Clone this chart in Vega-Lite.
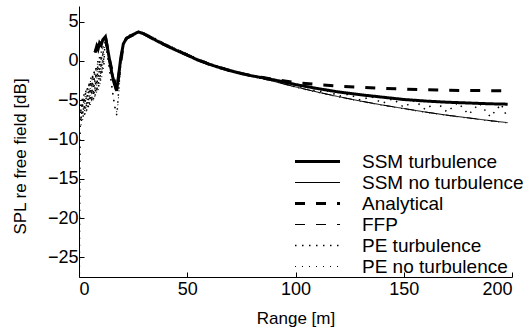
{
"$schema": "https://vega.github.io/schema/vega-lite/v6.json",
"width": 433, "height": 271,
"autosize": {"type": "none"},
"padding": {"left": 79, "top": 6, "right": 18, "bottom": 57},
"background": "white",
"config": {
  "view": {"stroke": null},
  "font": "Liberation Sans",
  "axis": {"domainColor": "black", "domainWidth": 1, "tickColor": "black", "tickSize": -5, "labelColor": "black", "titleColor": "black", "labelFontSize": 18, "titleFontSize": 17, "titleFontWeight": "normal", "grid": false, "labelFont": "Liberation Sans", "titleFont": "Liberation Sans"},
  "legend": {"labelFont": "Liberation Sans"}
},
"data": {"values": [
{"s":"PE no turbulence","x":0.2,"y":-28},{"s":"PE no turbulence","x":0.4,"y":-11},{"s":"PE no turbulence","x":0.6,"y":-6.0},{"s":"PE no turbulence","x":1.0,"y":-8.2},{"s":"PE no turbulence","x":1.3,"y":-5.2},{"s":"PE no turbulence","x":1.7,"y":-7.5},{"s":"PE no turbulence","x":2.1,"y":-4.5},{"s":"PE no turbulence","x":2.5,"y":-7.0},{"s":"PE no turbulence","x":2.9,"y":-3.9},{"s":"PE no turbulence","x":3.3,"y":-6.6},{"s":"PE no turbulence","x":3.7,"y":-3.4},{"s":"PE no turbulence","x":4.1,"y":-6.2},{"s":"PE no turbulence","x":4.5,"y":-2.9},{"s":"PE no turbulence","x":4.9,"y":-5.8},{"s":"PE no turbulence","x":5.3,"y":-2.4},{"s":"PE no turbulence","x":5.7,"y":-5.4},{"s":"PE no turbulence","x":6.1,"y":-1.9},{"s":"PE no turbulence","x":6.5,"y":-5.0},{"s":"PE no turbulence","x":6.9,"y":-1.4},{"s":"PE no turbulence","x":7.3,"y":-4.7},{"s":"PE no turbulence","x":7.7,"y":-0.9},{"s":"PE no turbulence","x":8.1,"y":-4.2},{"s":"PE no turbulence","x":8.5,"y":-0.3},{"s":"PE no turbulence","x":8.9,"y":-3.7},{"s":"PE no turbulence","x":9.3,"y":0.3},{"s":"PE no turbulence","x":9.7,"y":-3.0},{"s":"PE no turbulence","x":10.1,"y":0.9},{"s":"PE no turbulence","x":10.5,"y":-2.1},{"s":"PE no turbulence","x":10.9,"y":1.6},{"s":"PE no turbulence","x":11.3,"y":-1.0},{"s":"PE no turbulence","x":11.8,"y":2.3},{"s":"PE no turbulence","x":12.5,"y":2.0},{"s":"PE no turbulence","x":13.5,"y":0.0},{"s":"PE no turbulence","x":14.5,"y":-2.0},{"s":"PE no turbulence","x":15.5,"y":-4.0},{"s":"PE no turbulence","x":16.5,"y":-5.8},{"s":"PE no turbulence","x":17.3,"y":-6.6},{"s":"PE no turbulence","x":18,"y":-5.5},{"s":"PE no turbulence","x":18.7,"y":-3.0},{"s":"PE no turbulence","x":19.5,"y":0.0},{"s":"PE no turbulence","x":20.5,"y":2.0},{"s":"PE no turbulence","x":22,"y":3.0},{"s":"PE no turbulence","x":25,"y":3.4},{"s":"PE no turbulence","x":28,"y":3.75},{"s":"PE no turbulence","x":32,"y":3.35},{"s":"PE no turbulence","x":36,"y":2.8},{"s":"PE no turbulence","x":40,"y":2.2},{"s":"PE no turbulence","x":45,"y":1.55},{"s":"PE no turbulence","x":50,"y":0.95},{"s":"PE no turbulence","x":55,"y":0.3},{"s":"PE no turbulence","x":60,"y":-0.25},{"s":"PE no turbulence","x":65,"y":-0.7},{"s":"PE no turbulence","x":70,"y":-1.1},{"s":"PE no turbulence","x":75,"y":-1.5},{"s":"PE no turbulence","x":80,"y":-1.9},{"s":"PE no turbulence","x":90,"y":-2.6},{"s":"PE no turbulence","x":100,"y":-3.35},{"s":"PE no turbulence","x":110,"y":-4.0},{"s":"PE no turbulence","x":120,"y":-4.6},{"s":"PE no turbulence","x":130,"y":-5.15},{"s":"PE no turbulence","x":140,"y":-5.65},{"s":"PE no turbulence","x":150,"y":-6.1},{"s":"PE no turbulence","x":160,"y":-6.55},{"s":"PE no turbulence","x":170,"y":-6.95},{"s":"PE no turbulence","x":180,"y":-7.3},{"s":"PE no turbulence","x":190,"y":-7.65},{"s":"PE no turbulence","x":198,"y":-7.9},
{"s":"PE turbulence","x":0.15,"y":-28},{"s":"PE turbulence","x":0.3,"y":-14},{"s":"PE turbulence","x":0.5,"y":-8.5},{"s":"PE turbulence","x":0.8,"y":-5.5},{"s":"PE turbulence","x":1.1,"y":-7.8},{"s":"PE turbulence","x":1.5,"y":-4.8},{"s":"PE turbulence","x":1.9,"y":-7.2},{"s":"PE turbulence","x":2.3,"y":-4.2},{"s":"PE turbulence","x":2.7,"y":-6.8},{"s":"PE turbulence","x":3.1,"y":-3.6},{"s":"PE turbulence","x":3.5,"y":-6.4},{"s":"PE turbulence","x":3.9,"y":-3.1},{"s":"PE turbulence","x":4.3,"y":-6.0},{"s":"PE turbulence","x":4.7,"y":-2.6},{"s":"PE turbulence","x":5.1,"y":-5.6},{"s":"PE turbulence","x":5.5,"y":-2.1},{"s":"PE turbulence","x":5.9,"y":-5.2},{"s":"PE turbulence","x":6.3,"y":-1.6},{"s":"PE turbulence","x":6.7,"y":-4.9},{"s":"PE turbulence","x":7.1,"y":-1.1},{"s":"PE turbulence","x":7.5,"y":-4.5},{"s":"PE turbulence","x":7.9,"y":-0.6},{"s":"PE turbulence","x":8.3,"y":-4.0},{"s":"PE turbulence","x":8.7,"y":0.0},{"s":"PE turbulence","x":9.1,"y":-3.4},{"s":"PE turbulence","x":9.5,"y":0.6},{"s":"PE turbulence","x":9.9,"y":-2.6},{"s":"PE turbulence","x":10.3,"y":1.2},{"s":"PE turbulence","x":10.7,"y":-1.6},{"s":"PE turbulence","x":11.1,"y":1.9},{"s":"PE turbulence","x":11.5,"y":-0.5},{"s":"PE turbulence","x":12,"y":2.6},{"s":"PE turbulence","x":13,"y":1.0},{"s":"PE turbulence","x":14,"y":-0.8},{"s":"PE turbulence","x":15,"y":-2.9},{"s":"PE turbulence","x":16,"y":-4.9},{"s":"PE turbulence","x":17,"y":-6.5},{"s":"PE turbulence","x":17.5,"y":-6.9},{"s":"PE turbulence","x":18,"y":-5.0},{"s":"PE turbulence","x":19,"y":-1.2},{"s":"PE turbulence","x":20,"y":1.3},{"s":"PE turbulence","x":21,"y":2.6},{"s":"PE turbulence","x":22,"y":3.1},{"s":"PE turbulence","x":25,"y":3.5},{"s":"PE turbulence","x":28,"y":3.8},{"s":"PE turbulence","x":32,"y":3.3},{"s":"PE turbulence","x":36,"y":2.75},{"s":"PE turbulence","x":40,"y":2.15},{"s":"PE turbulence","x":45,"y":1.5},{"s":"PE turbulence","x":50,"y":0.9},{"s":"PE turbulence","x":55,"y":0.25},{"s":"PE turbulence","x":60,"y":-0.3},{"s":"PE turbulence","x":65,"y":-0.75},{"s":"PE turbulence","x":70,"y":-1.15},{"s":"PE turbulence","x":75,"y":-1.5},{"s":"PE turbulence","x":80,"y":-1.85},{"s":"PE turbulence","x":85,"y":-2.3},{"s":"PE turbulence","x":90,"y":-2.5},{"s":"PE turbulence","x":95,"y":-2.9},{"s":"PE turbulence","x":100,"y":-3.3},{"s":"PE turbulence","x":105,"y":-3.3},{"s":"PE turbulence","x":110,"y":-3.9},{"s":"PE turbulence","x":115,"y":-3.8},{"s":"PE turbulence","x":120,"y":-4.5},{"s":"PE turbulence","x":125,"y":-4.2},{"s":"PE turbulence","x":130,"y":-5.0},{"s":"PE turbulence","x":135,"y":-4.5},{"s":"PE turbulence","x":140,"y":-5.4},{"s":"PE turbulence","x":145,"y":-4.8},{"s":"PE turbulence","x":150,"y":-5.9},{"s":"PE turbulence","x":155,"y":-5.0},{"s":"PE turbulence","x":160,"y":-6.2},{"s":"PE turbulence","x":165,"y":-5.2},{"s":"PE turbulence","x":170,"y":-6.5},{"s":"PE turbulence","x":175,"y":-5.3},{"s":"PE turbulence","x":180,"y":-6.8},{"s":"PE turbulence","x":185,"y":-5.4},{"s":"PE turbulence","x":190,"y":-7.1},{"s":"PE turbulence","x":195,"y":-5.5},{"s":"PE turbulence","x":198,"y":-7.3},
{"s":"FFP","x":7.4,"y":1.1},{"s":"FFP","x":9.5,"y":2.3},{"s":"FFP","x":12.2,"y":3.1},{"s":"FFP","x":14,"y":0.3},{"s":"FFP","x":17.4,"y":-3.8},{"s":"FFP","x":20.5,"y":2.2},{"s":"FFP","x":22,"y":2.9},{"s":"FFP","x":27.5,"y":3.7},{"s":"FFP","x":30,"y":3.45},{"s":"FFP","x":40,"y":2.0},{"s":"FFP","x":50,"y":0.75},{"s":"FFP","x":60,"y":-0.4},{"s":"FFP","x":70,"y":-1.25},{"s":"FFP","x":80,"y":-1.9},{"s":"FFP","x":90,"y":-2.6},{"s":"FFP","x":100,"y":-3.3},{"s":"FFP","x":110,"y":-3.95},{"s":"FFP","x":120,"y":-4.55},{"s":"FFP","x":130,"y":-5.1},{"s":"FFP","x":140,"y":-5.6},{"s":"FFP","x":150,"y":-6.05},{"s":"FFP","x":160,"y":-6.5},{"s":"FFP","x":170,"y":-6.9},{"s":"FFP","x":180,"y":-7.25},{"s":"FFP","x":190,"y":-7.6},{"s":"FFP","x":198,"y":-7.85},
{"s":"SSM no turbulence","x":7.4,"y":1.1},{"s":"SSM no turbulence","x":9.5,"y":2.3},{"s":"SSM no turbulence","x":12.2,"y":3.1},{"s":"SSM no turbulence","x":14,"y":0.3},{"s":"SSM no turbulence","x":17.4,"y":-3.8},{"s":"SSM no turbulence","x":20.5,"y":2.2},{"s":"SSM no turbulence","x":22,"y":2.9},{"s":"SSM no turbulence","x":27.5,"y":3.7},{"s":"SSM no turbulence","x":30,"y":3.45},{"s":"SSM no turbulence","x":40,"y":2.0},{"s":"SSM no turbulence","x":50,"y":0.75},{"s":"SSM no turbulence","x":60,"y":-0.4},{"s":"SSM no turbulence","x":70,"y":-1.25},{"s":"SSM no turbulence","x":80,"y":-1.9},{"s":"SSM no turbulence","x":85,"y":-2.25},{"s":"SSM no turbulence","x":90,"y":-2.6},{"s":"SSM no turbulence","x":95,"y":-2.95},{"s":"SSM no turbulence","x":100,"y":-3.3},{"s":"SSM no turbulence","x":110,"y":-3.95},{"s":"SSM no turbulence","x":120,"y":-4.55},{"s":"SSM no turbulence","x":130,"y":-5.1},{"s":"SSM no turbulence","x":140,"y":-5.6},{"s":"SSM no turbulence","x":150,"y":-6.05},{"s":"SSM no turbulence","x":160,"y":-6.5},{"s":"SSM no turbulence","x":170,"y":-6.9},{"s":"SSM no turbulence","x":180,"y":-7.25},{"s":"SSM no turbulence","x":190,"y":-7.6},{"s":"SSM no turbulence","x":198,"y":-7.85},
{"s":"Analytical","x":7.4,"y":1.1},{"s":"Analytical","x":9.5,"y":2.3},{"s":"Analytical","x":12.2,"y":3.1},{"s":"Analytical","x":14,"y":0.3},{"s":"Analytical","x":17.4,"y":-3.8},{"s":"Analytical","x":20.5,"y":2.2},{"s":"Analytical","x":22,"y":2.9},{"s":"Analytical","x":27.5,"y":3.7},{"s":"Analytical","x":30,"y":3.45},{"s":"Analytical","x":40,"y":2.0},{"s":"Analytical","x":50,"y":0.75},{"s":"Analytical","x":60,"y":-0.4},{"s":"Analytical","x":70,"y":-1.25},{"s":"Analytical","x":80,"y":-1.9},{"s":"Analytical","x":85,"y":-2.1},{"s":"Analytical","x":90,"y":-2.35},{"s":"Analytical","x":95,"y":-2.55},{"s":"Analytical","x":100,"y":-2.75},{"s":"Analytical","x":110,"y":-3.0},{"s":"Analytical","x":120,"y":-3.2},{"s":"Analytical","x":130,"y":-3.35},{"s":"Analytical","x":140,"y":-3.48},{"s":"Analytical","x":150,"y":-3.58},{"s":"Analytical","x":160,"y":-3.66},{"s":"Analytical","x":170,"y":-3.72},{"s":"Analytical","x":180,"y":-3.76},{"s":"Analytical","x":190,"y":-3.78},{"s":"Analytical","x":198,"y":-3.8},
{"s":"SSM turbulence","x":7.4,"y":1.1},{"s":"SSM turbulence","x":8.2,"y":1.9},{"s":"SSM turbulence","x":8.8,"y":1.5},{"s":"SSM turbulence","x":9.5,"y":2.3},{"s":"SSM turbulence","x":10.2,"y":2.0},{"s":"SSM turbulence","x":11,"y":2.7},{"s":"SSM turbulence","x":12.2,"y":3.1},{"s":"SSM turbulence","x":13,"y":1.9},{"s":"SSM turbulence","x":14,"y":0.3},{"s":"SSM turbulence","x":15,"y":-1.3},{"s":"SSM turbulence","x":16,"y":-2.6},{"s":"SSM turbulence","x":17.4,"y":-3.8},{"s":"SSM turbulence","x":18.3,"y":-1.8},{"s":"SSM turbulence","x":19.3,"y":0.4},{"s":"SSM turbulence","x":20.5,"y":2.2},{"s":"SSM turbulence","x":22,"y":2.9},{"s":"SSM turbulence","x":24,"y":3.2},{"s":"SSM turbulence","x":26,"y":3.5},{"s":"SSM turbulence","x":27.5,"y":3.7},{"s":"SSM turbulence","x":30,"y":3.45},{"s":"SSM turbulence","x":33,"y":3.0},{"s":"SSM turbulence","x":36,"y":2.55},{"s":"SSM turbulence","x":40,"y":2.0},{"s":"SSM turbulence","x":45,"y":1.35},{"s":"SSM turbulence","x":50,"y":0.75},{"s":"SSM turbulence","x":55,"y":0.1},{"s":"SSM turbulence","x":60,"y":-0.4},{"s":"SSM turbulence","x":65,"y":-0.85},{"s":"SSM turbulence","x":70,"y":-1.25},{"s":"SSM turbulence","x":75,"y":-1.6},{"s":"SSM turbulence","x":80,"y":-1.9},{"s":"SSM turbulence","x":85,"y":-2.15},{"s":"SSM turbulence","x":90,"y":-2.4},{"s":"SSM turbulence","x":95,"y":-2.7},{"s":"SSM turbulence","x":100,"y":-3.0},{"s":"SSM turbulence","x":110,"y":-3.5},{"s":"SSM turbulence","x":120,"y":-3.95},{"s":"SSM turbulence","x":130,"y":-4.3},{"s":"SSM turbulence","x":140,"y":-4.6},{"s":"SSM turbulence","x":150,"y":-4.9},{"s":"SSM turbulence","x":160,"y":-5.1},{"s":"SSM turbulence","x":170,"y":-5.25},{"s":"SSM turbulence","x":180,"y":-5.35},{"s":"SSM turbulence","x":190,"y":-5.45},{"s":"SSM turbulence","x":198,"y":-5.5}
]},
"mark": {"type": "line", "clip": true},
"encoding": {
  "x": {"field": "x", "type": "quantitative", "scale": {"domain": [0, 200], "nice": false}, "axis": {"values": [0, 50, 100, 150, 200], "title": "Range [m]", "labelPadding": 8, "titlePadding": 12}},
  "y": {"field": "y", "type": "quantitative", "scale": {"domain": [-27.5, 7], "nice": false, "zero": false}, "axis": {"values": [-25, -20, -15, -10, -5, 0, 5], "title": "SPL re free field [dB]", "labelPadding": 6, "titlePadding": 18, "titleY": 150}},
  "color": {"field": "s", "type": "nominal", "scale": {"domain": ["SSM turbulence", "SSM no turbulence", "Analytical", "FFP", "PE turbulence", "PE no turbulence"], "range": ["black", "black", "black", "black", "black", "black"]},
    "legend": {"orient": "none", "legendX": 244, "legendY": 146, "title": null, "symbolType": "M-5,0H1", "symbolSize": 225, "labelFontSize": 19, "labelOffset": 20, "labelLimit": 400, "labelColor": "black", "rowPadding": 1}},
  "strokeDash": {"field": "s", "type": "nominal", "scale": {"domain": ["SSM turbulence", "SSM no turbulence", "Analytical", "FFP", "PE turbulence", "PE no turbulence"], "range": [[1, 0], [1, 0], [10, 11], [10, 11], [1.5, 5.5], [1, 6]]}},
  "strokeWidth": {"field": "s", "type": "nominal", "scale": {"type": "ordinal", "domain": ["SSM turbulence", "SSM no turbulence", "Analytical", "FFP", "PE turbulence", "PE no turbulence"], "range": [3, 1, 3, 1, 1.5, 1]}}
}
}
